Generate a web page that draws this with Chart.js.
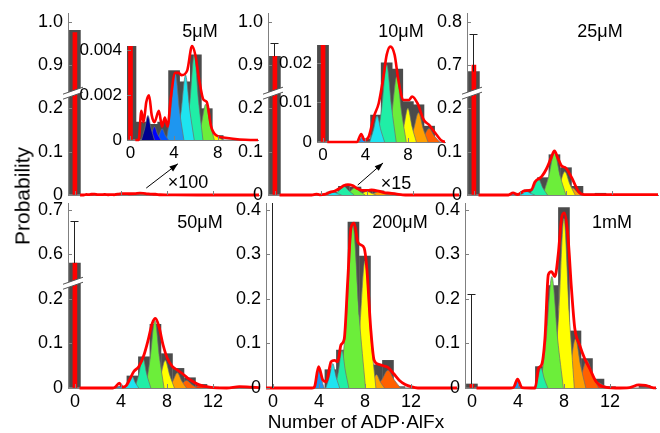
<!DOCTYPE html>
<html>
<head>
<meta charset="utf-8">
<script src="https://cdn.jsdelivr.net/npm/chart.js@4.4.1/dist/chart.umd.min.js"></script>
<style>
  body { margin: 0; background: #fff; }
  #fig { position: relative; width: 660px; height: 433px; overflow: hidden; font-family: "Liberation Sans", Arial, sans-serif; }
  #fig canvas { position: absolute; }
  .lbl { position: absolute; transform: translate(-50%, -50%); white-space: nowrap; color: #000; line-height: 1; }
</style>
</head>
<body>
<div id="fig"></div>
<script>
// histogram bins (number of ADP-AlFx bound)
const bins = [0, 1, 2, 3, 4, 5, 6, 7, 8, 9, 10, 11, 12, 13, 14, 15, 16];
const xTicks = [0, 4, 8, 12];
const insetXTicks = [0, 4, 8];

// y ticks (display units) and their labels, broken axes in upper row + 50uM
const yTicks = [0, 0.1, 0.2, 0.3, 0.4];
const labels5 = ['0', '0.1', '0.2', '0.9', '1.0'];
const labels10 = ['0', '0.1', '0.2', '0.9', '1.0'];
const labels25 = ['0', '0.1', '0.2', '0.7', '0.8'];
const labels50 = ['0', '0.1', '0.2', '0.6', '0.7'];
const labelsLow = ['0', '0.1', '0.2', '0.3', '0.4'];
const inset5Ticks = [0, 0.002, 0.004];
const inset5Labels = ['0', '0.002', '0.004'];
const inset10Ticks = [0, 0.01, 0.02];
const inset10Labels = ['0', '0.01', '0.02'];

// ---- 5 uM ----
const hist5 = [0.98, 0.0008, 0.0007, 0.0008, 0.0031, 0.0026, 0.0038, 0.0014, 0.0002, 0, 0, 0, 0, 0, 0, 0, 0];
const zero5 = 0.975;
const fit5x = [0.45, 0.75, 1.0, 1.2, 1.45, 1.7, 1.95, 2.2, 2.6, 2.9, 3.15, 3.4, 3.7, 4.1, 4.4, 4.7, 5.2, 5.65, 5.95, 6.3, 6.7, 7.0, 7.4, 7.9, 8.7, 11.0, 16.0];
const fit5y = [0, 0, 0.0013, 0.0008, 0.0017, 0.002, 0.0011, 0.0008, 0.0013, 0.0006, 0.001, 0.0006, 0.0019, 0.003, 0.003, 0.0029, 0.0031, 0.0042, 0.0038, 0.0027, 0.0018, 0.0017, 0.0006, 0.0002, 0.0001, 0, 0];
const comps5 = [
  [1, [1.0, 1.3, 1.6, 1.9, 2.2], [0, 0.0005, 0.0011, 0.0005, 0]],
  [2, [1.6, 1.9, 2.2, 2.5, 2.8], [0, 0.00025, 0.0006, 0.00025, 0]],
  [3, [2.3, 2.6, 2.9, 3.2, 3.5], [0, 0.0002, 0.0005, 0.0002, 0]],
  [4, [3.3, 3.7, 4.1, 4.5, 4.9], [0, 0.0013, 0.003, 0.0013, 0]],
  [5, [4.25, 4.65, 5.05, 5.45, 5.85], [0, 0.0013, 0.0029, 0.0013, 0]],
  [6, [5.05, 5.45, 5.85, 6.25, 6.65], [0, 0.0017, 0.0038, 0.0017, 0]],
  [7, [6.1, 6.5, 6.9, 7.3, 7.7], [0, 0.0007, 0.0016, 0.0007, 0]],
  [8, [6.9, 7.3, 7.7, 8.1, 8.5], [0, 0.0001, 0.00025, 0.0001, 0]]
];

// ---- 10 uM ----
const hist10 = [0.92, 0, 0, 0, 0.0008, 0.0068, 0.02, 0.0184, 0.0102, 0.0094, 0.004, 0, 0, 0, 0, 0, 0];
const zero10 = 0.92;
const err10 = 0.95;
const fit10x = [0.4, 3.2, 3.6, 3.9, 4.3, 4.8, 5.25, 5.7, 6.0, 6.35, 6.75, 7.1, 7.6, 8.1, 8.4, 8.9, 9.5, 10.0, 10.6, 11.1, 11.6, 16.0];
const fit10y = [0, 0, 0.002, 0.0005, 0.0013, 0.0065, 0.0098, 0.0166, 0.022, 0.0241, 0.022, 0.0157, 0.0106, 0.0106, 0.0115, 0.0098, 0.0056, 0.0043, 0.0022, 0.0005, 0, 0];
const comps10 = [
  [4, [3.4, 3.55, 3.7, 3.85, 4.0], [0, 0.0007, 0.0015, 0.0007, 0]],
  [5, [4.4, 4.75, 5.1, 5.45, 5.8], [0, 0.003, 0.0066, 0.003, 0]],
  [6, [5.1, 5.55, 6.0, 6.45, 6.9], [0, 0.009, 0.0195, 0.009, 0]],
  [7, [6.05, 6.5, 6.95, 7.4, 7.85], [0, 0.0075, 0.0165, 0.0075, 0]],
  [8, [7.2, 7.6, 8.0, 8.4, 8.8], [0, 0.0038, 0.0085, 0.0038, 0]],
  [9, [8.1, 8.55, 9.0, 9.45, 9.9], [0, 0.0033, 0.0074, 0.0033, 0]],
  [10, [9.0, 9.5, 10.0, 10.5, 11.0], [0, 0.0015, 0.0034, 0.0015, 0]]
];

// ---- 25 uM ----
const hist25 = [0.685, 0, 0, 0, 0.004, 0.012, 0.04, 0.093, 0.063, 0.02, 0.002, 0.004, 0, 0, 0, 0, 0];
const zero25 = 0.70;
const err25 = 0.772;
const fit25x = [0.4, 3.0, 3.4, 3.8, 4.4, 5.0, 5.3, 5.9, 6.3, 6.7, 7.0, 7.3, 7.6, 8.0, 8.5, 9.1, 9.6, 16.0];
const fit25y = [0, 0, 0.005, 0.001, 0.01, 0.012, 0.03, 0.043, 0.06, 0.085, 0.102, 0.085, 0.068, 0.062, 0.04, 0.008, 0.001, 0.001];
const comps25 = [
  [4, [3.0, 3.25, 3.5, 3.75, 4.0], [0, 0.002, 0.004, 0.002, 0]],
  [5, [3.9, 4.25, 4.6, 4.95, 5.3], [0, 0.0035, 0.008, 0.0035, 0]],
  [6, [4.8, 5.2, 5.6, 6.0, 6.4], [0, 0.016, 0.037, 0.016, 0]],
  [7, [6.0, 6.5, 7.0, 7.5, 8.0], [0, 0.043, 0.097, 0.043, 0]],
  [8, [7.0, 7.45, 7.9, 8.35, 8.8], [0, 0.024, 0.054, 0.024, 0]],
  [9, [7.9, 8.25, 8.6, 8.95, 9.3], [0, 0.007, 0.016, 0.007, 0]]
];

// ---- 50 uM ----
const hist50 = [0.58, 0, 0, 0, 0.003, 0.027, 0.07, 0.143, 0.077, 0.044, 0.023, 0.008, 0.002, 0, 0, 0, 0];
const zero50 = 0.58;
const err50 = 0.675;
const fit50x = [0.4, 3.3, 3.5, 3.86, 4.15, 4.45, 4.74, 5.12, 5.56, 6.0, 6.37, 6.72, 7.0, 7.3, 7.66, 8.04, 8.48, 8.92, 9.36, 9.8, 10.23, 10.82, 11.7, 13.2, 14.3, 15.2, 16.0];
const fit50y = [0, 0, 0.002, 0.011, 0.002, 0.005, 0.018, 0.037, 0.048, 0.074, 0.108, 0.145, 0.156, 0.138, 0.097, 0.066, 0.048, 0.04, 0.032, 0.022, 0.015, 0.007, 0.002, 0, 0.003, 0.002, 0.001];
const comps50 = [
  [4, [3.6, 3.8, 4.0, 4.2, 4.4], [0, 0.002, 0.004, 0.002, 0]],
  [5, [4.35, 4.65, 4.95, 5.25, 5.55], [0, 0.012, 0.027, 0.012, 0]],
  [6, [5.2, 5.55, 5.9, 6.25, 6.6], [0, 0.03, 0.068, 0.03, 0]],
  [7, [6.15, 6.55, 6.95, 7.35, 7.75], [0, 0.068, 0.152, 0.068, 0]],
  [8, [7.05, 7.45, 7.85, 8.25, 8.65], [0, 0.028, 0.062, 0.028, 0]],
  [9, [8.1, 8.5, 8.9, 9.3, 9.7], [0, 0.015, 0.034, 0.015, 0]],
  [10, [8.8, 9.25, 9.7, 10.15, 10.6], [0, 0.008, 0.017, 0.008, 0]],
  [11, [9.9, 10.35, 10.8, 11.25, 11.7], [0, 0.002, 0.005, 0.002, 0]]
];

// ---- 200 uM ----
const hist200 = [0, 0, 0, 0, 0, 0.041, 0.085, 0.372, 0.296, 0.052, 0.062, 0.003, 0, 0, 0, 0, 0];
const zero200 = 0;
const err200 = 0.45;
const fit200x = [-0.6, 3.4, 3.62, 3.97, 4.34, 4.63, 5.06, 5.35, 5.63, 5.92, 6.2, 6.5, 6.78, 7.07, 7.36, 7.64, 7.93, 8.16, 8.5, 8.8, 9.2, 9.6, 10.0, 10.5, 11.0, 11.5, 12.0, 12.6, 16.0];
const fit200y = [0, 0, 0.003, 0.048, 0.018, 0.014, 0.059, 0.062, 0.059, 0.097, 0.11, 0.239, 0.359, 0.37, 0.329, 0.321, 0.314, 0.269, 0.134, 0.062, 0.053, 0.05, 0.046, 0.032, 0.017, 0.008, 0.003, 0, 0];
const comps200 = [
  [4, [3.55, 3.78, 4.0, 4.22, 4.45], [0, 0.02, 0.045, 0.02, 0]],
  [5, [4.6, 4.9, 5.2, 5.5, 5.8], [0, 0.024, 0.055, 0.024, 0]],
  [6, [5.4, 5.7, 6.0, 6.3, 6.6], [0, 0.038, 0.085, 0.038, 0]],
  [7, [5.85, 6.4, 6.95, 7.5, 8.05], [0, 0.16, 0.365, 0.16, 0]],
  [8, [7.05, 7.52, 8.0, 8.48, 8.95], [0, 0.125, 0.285, 0.125, 0]],
  [9, [8.3, 8.65, 9.0, 9.35, 9.7], [0, 0.013, 0.03, 0.013, 0]],
  [10, [8.9, 9.45, 10.0, 10.55, 11.1], [0, 0.018, 0.04, 0.018, 0]]
];

// ---- 1 mM ----
const hist1m = [0.009, 0, 0, 0, 0, 0, 0.048, 0.23, 0.405, 0.128, 0.066, 0.02, 0.003, 0, 0, 0.006, 0];
const zero1m = 0.008;
const err1m = 0.21;
const fit1mx = [0.4, 3.3, 3.6, 3.97, 4.34, 5.5, 5.78, 6.06, 6.35, 6.64, 6.92, 7.21, 7.5, 7.79, 8.02, 8.36, 8.65, 8.94, 9.37, 9.8, 10.23, 10.8, 11.38, 12.5, 13.7, 14.5, 15.1, 15.7, 16.0];
const fit1my = [0, 0, 0.001, 0.02, 0.001, 0, 0.044, 0.052, 0.112, 0.254, 0.261, 0.25, 0.299, 0.381, 0.393, 0.336, 0.224, 0.134, 0.096, 0.066, 0.044, 0.014, 0.003, 0, 0.001, 0.007, 0.006, 0.001, 0];
const comps1m = [
  [4, [3.65, 3.82, 4.0, 4.18, 4.35], [0, 0.008, 0.018, 0.008, 0]],
  [6, [5.4, 5.7, 6.0, 6.3, 6.6], [0, 0.02, 0.045, 0.02, 0]],
  [7, [5.95, 6.45, 6.95, 7.45, 7.95], [0, 0.11, 0.25, 0.11, 0]],
  [8, [7.1, 7.55, 8.0, 8.45, 8.9], [0, 0.17, 0.38, 0.17, 0]],
  [9, [8.1, 8.55, 9.0, 9.45, 9.9], [0, 0.05, 0.11, 0.05, 0]],
  [10, [9.0, 9.5, 10.0, 10.5, 11.0], [0, 0.028, 0.062, 0.028, 0]],
  [11, [10.0, 10.5, 11.0, 11.5, 12.0], [0, 0.005, 0.012, 0.005, 0]]
];

// jet-like colours per component number
const jet = {1: '#00008f', 2: '#0000ff', 3: '#0050ff', 4: '#1e96f0', 5: '#1ee4f0', 6: '#20eea6',
             7: '#6cee3a', 8: '#ffff00', 9: '#ffa000', 10: '#ff6000', 11: '#ff2a00'};

const FONT = '"Liberation Sans", Arial, sans-serif';
const fig = document.getElementById('fig');

// error bars, axis breaks, arrows and inward tick marks
const deco = {
  id: 'deco',
  afterDatasetsDraw(chart, args, o) {
    const ctx = chart.ctx, a = chart.chartArea, x = chart.scales.x, y = chart.scales.y;
    ctx.save();
    if (o.err != null) {
      ctx.save();
      ctx.beginPath();
      ctx.rect(a.left, a.top, a.right - a.left, a.bottom - a.top);
      ctx.clip();
      const px = Math.round(x.getPixelForValue(0)) - 0.5;
      const y0 = y.getPixelForValue(o.errFrom), y1 = Math.round(y.getPixelForValue(o.err)) + 0.5;
      ctx.strokeStyle = '#222';
      ctx.lineWidth = 1;
      ctx.beginPath();
      ctx.moveTo(px, y0); ctx.lineTo(px, y1);
      ctx.moveTo(px - 4, y1); ctx.lineTo(px + 4, y1);
      ctx.stroke();
      ctx.restore();
    }
    // inward ticks
    ctx.strokeStyle = '#808080';
    ctx.lineWidth = 1;
    ctx.beginPath();
    y.ticks.forEach(t => {
      const py = Math.round(y.getPixelForValue(t.value)) + 0.5;
      ctx.moveTo(a.left, py); ctx.lineTo(a.left + 4, py);
    });
    x.ticks.forEach(t => {
      const px = Math.round(x.getPixelForValue(t.value)) + 0.5;
      ctx.moveTo(px, a.bottom); ctx.lineTo(px, a.bottom - 4);
    });
    ctx.stroke();
    if (o.brk != null) {
      const yb = y.getPixelForValue(o.brk), x0 = a.left - 5, x1 = a.left + 15;
      ctx.fillStyle = '#fff';
      ctx.beginPath();
      ctx.moveTo(x0, yb + 6); ctx.lineTo(x1, yb - 1); ctx.lineTo(x1, yb - 6); ctx.lineTo(x0, yb + 1);
      ctx.closePath();
      ctx.fill();
      ctx.strokeStyle = '#555';
      ctx.beginPath();
      ctx.moveTo(x0, yb + 6); ctx.lineTo(x1, yb - 1);
      ctx.moveTo(x0, yb + 1); ctx.lineTo(x1, yb - 6);
      ctx.stroke();
    }
    if (o.arrow) {
      const ax = x.getPixelForValue(o.arrow[0]), ay = y.getPixelForValue(o.arrow[1]);
      const bx = x.getPixelForValue(o.arrow[2]), by = y.getPixelForValue(o.arrow[3]);
      const ang = Math.atan2(by - ay, bx - ax);
      ctx.strokeStyle = '#000';
      ctx.fillStyle = '#000';
      ctx.lineWidth = 1;
      ctx.beginPath(); ctx.moveTo(ax, ay); ctx.lineTo(bx, by); ctx.stroke();
      ctx.beginPath();
      ctx.moveTo(bx, by);
      ctx.lineTo(bx - 9 * Math.cos(ang - 0.35), by - 9 * Math.sin(ang - 0.35));
      ctx.lineTo(bx - 9 * Math.cos(ang + 0.35), by - 9 * Math.sin(ang + 0.35));
      ctx.closePath();
      ctx.fill();
    }
    ctx.restore();
  }
};

function makePanel(p) {
  const cv = document.createElement('canvas');
  cv.width = p.yw + p.w + 2;
  cv.height = p.h + 10 + p.xh;
  cv.style.left = (p.left - p.yw) + 'px';
  cv.style.top = (p.top - 10) + 'px';
  fig.appendChild(cv);

  // broken axis: values in the upper segment are shifted down to display 0.3+
  const disp = v => (p.hi != null && v > 0.45) ? v - p.hi + 0.3 : v;

  const ds = [];
  ds.push({
    type: 'line', data: p.fitX.map((x, i) => ({x: x, y: disp(p.fitY[i])})),
    borderColor: '#ff0000', borderWidth: p.lw, pointRadius: 0, fill: false,
    cubicInterpolationMode: 'monotone', order: 1, clip: {left: 0, right: 0, top: 3, bottom: 3}
  });
  p.comps.forEach(c => ds.push({
    type: 'line', data: c[1].map((x, i) => ({x: x, y: c[2][i]})),
    borderColor: '#6e6e6e', borderWidth: 0.7, backgroundColor: jet[c[0]], fill: 'origin',
    pointRadius: 0, cubicInterpolationMode: 'monotone', order: 2
  }));
  if (p.zero) {
    ds.push({type: 'bar', data: [{x: 0, y: disp(p.zero)}], backgroundColor: '#ff0000',
             barThickness: 4, grouped: false, order: 3});
  }
  ds.push({type: 'bar', data: bins.map((x, i) => ({x: x, y: disp(p.hist[i])})), backgroundColor: '#4b4b4b',
           barThickness: 11, grouped: false, order: 4});

  new Chart(cv, {
    type: 'bar',
    data: {datasets: ds},
    plugins: [deco],
    options: {
      responsive: false, animation: false, events: [],
      layout: {padding: {left: 0, right: 2, top: 10, bottom: 0}},
      plugins: {
        legend: {display: false}, tooltip: {enabled: false},
        deco: {err: p.err != null ? disp(p.err) : null, errFrom: disp(p.hist[0]), brk: p.hi != null ? 0.235 : null, arrow: p.arrow}
      },
      scales: {
        x: {
          type: 'linear', min: p.xMin, max: p.xMax, offset: false,
          afterBuildTicks: s => { s.ticks = p.xTicks.map(v => ({value: v})); },
          afterFit: s => { s.height = p.xh; s.paddingLeft = 0; s.paddingRight = 0; },
          ticks: {display: p.showX, font: {family: FONT, size: p.fs}, color: '#000', padding: 3, maxRotation: 0, autoSkip: false},
          grid: {drawOnChartArea: false, drawTicks: false, offset: false},
          border: {color: '#808080', width: 1}
        },
        y: {
          type: 'linear', min: 0, max: p.yMax,
          afterBuildTicks: s => { s.ticks = p.yTicks.map(v => ({value: v})); },
          afterFit: s => { s.width = p.yw; s.paddingTop = 0; s.paddingBottom = 0; },
          ticks: {callback: (v, i) => p.yLabels[i], font: {family: FONT, size: p.fs}, color: '#000', padding: 5, autoSkip: false},
          grid: {drawOnChartArea: false, drawTicks: false},
          border: {color: '#808080', width: 1}
        }
      }
    }
  });
}

const mainBase = {w: 191, yw: 45, xh: 24, xMin: -0.6, xMax: 16, xTicks: xTicks, yTicks: yTicks, fs: 18, lw: 2.8};
const topRow = Object.assign({}, mainBase, {top: 13, h: 182, yMax: 0.42, showX: false});
const lowRow = Object.assign({}, mainBase, {top: 203, h: 185, yMax: 0.415, showX: true});

makePanel(Object.assign({}, topRow, {left: 68, hist: hist5, zero: zero5, fitX: fit5x, fitY: fit5y, comps: comps5, hi: 0.9, yLabels: labels5, arrow: [6.2, 0.016, 8.95, 0.072]}));
makePanel(Object.assign({}, topRow, {left: 268, hist: hist10, zero: zero10, err: err10, fitX: fit10x, fitY: fit10y, comps: comps10, hi: 0.9, yLabels: labels10, arrow: [7.2, 0.023, 9.4, 0.074]}));
makePanel(Object.assign({}, topRow, {left: 467, hist: hist25, zero: zero25, err: err25, fitX: fit25x, fitY: fit25y, comps: comps25, hi: 0.7, yLabels: labels25}));
makePanel(Object.assign({}, lowRow, {left: 68, hist: hist50, zero: zero50, err: err50, fitX: fit50x, fitY: fit50y, comps: comps50, hi: 0.6, yLabels: labels50}));
makePanel(Object.assign({}, lowRow, {left: 266, hist: hist200, zero: zero200, err: err200, fitX: fit200x, fitY: fit200y, comps: comps200, hi: null, yLabels: labelsLow}));
makePanel(Object.assign({}, lowRow, {left: 465, hist: hist1m, zero: zero1m, err: err1m, fitX: fit1mx, fitY: fit1my, comps: comps1m, hi: null, yLabels: labelsLow}));

// insets (same data, magnified)
makePanel({left: 127, top: 45.5, w: 131, h: 94.5, yw: 55, xh: 22, xMin: -0.32, xMax: 11.7, yMax: 0.0042,
  xTicks: insetXTicks, yTicks: inset5Ticks, yLabels: inset5Labels, showX: true, fs: 17, lw: 2.6,
  hist: hist5, zero: zero5, fitX: fit5x, fitY: fit5y, comps: comps5, hi: null});
makePanel({left: 317, top: 45, w: 128, h: 97, yw: 55, xh: 22, xMin: -0.57, xMax: 11.5, yMax: 0.0245,
  xTicks: insetXTicks, yTicks: inset10Ticks, yLabels: inset10Labels, showX: true, fs: 17, lw: 2.6,
  hist: hist10, zero: zero10, fitX: fit10x, fitY: fit10y, comps: comps10, hi: null});

// text
function label(text, x, y, size, rot) {
  const d = document.createElement('div');
  d.className = 'lbl';
  d.textContent = text;
  d.style.left = x + 'px';
  d.style.top = y + 'px';
  d.style.fontSize = size + 'px';
  if (rot) d.style.transform = 'translate(-50%, -50%) rotate(' + rot + 'deg)';
  fig.appendChild(d);
}
label('5\u03bcM', 200, 31, 18);
label('10\u03bcM', 401, 31, 18);
label('25\u03bcM', 600, 31, 18);
label('50\u03bcM', 200, 222, 18);
label('200\u03bcM', 400, 222, 18);
label('1mM', 612, 222, 18);
label('\u00d7100', 188, 182, 18);
label('\u00d715', 396, 183, 18);
label('Probability', 22, 196, 21, -90);
label('Number of ADP\u00b7AlFx', 356, 421, 19);
</script>
</body>
</html>
